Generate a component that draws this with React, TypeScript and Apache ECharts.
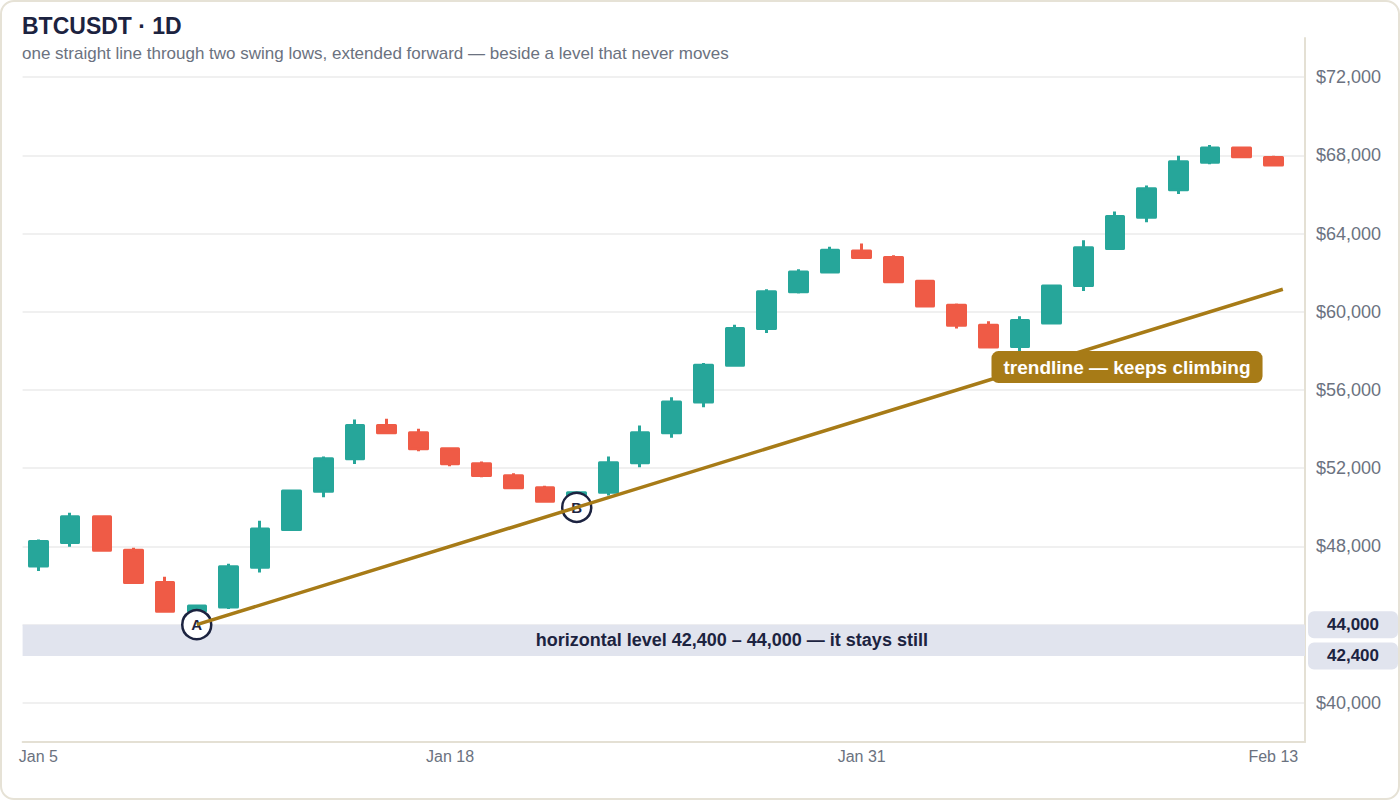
import React, { useEffect, useRef } from "react";
import * as echarts from "echarts";

// x ticks: day index -> label
const tickIndex = [0, 13, 26, 39];
const tickLabels = ["Jan 5", "Jan 18", "Jan 31", "Feb 13"];

// y grid lines, and the price labels shown (44,000 is covered by its tag)
const yTicks = [40000, 44000, 48000, 52000, 56000, 60000, 64000, 68000, 72000];
const yLabels = [40000, 48000, 52000, 56000, 60000, 64000, 68000, 72000];

// daily candles, Jan 5 .. Feb 13
const opens = [
  47000, 48200, 49520, 47800, 46150, 44700, 44900, 46930, 48870, 50820,
  52480, 54190, 53810, 52990, 52230, 51610, 51000, 50400, 50770, 52280,
  53810, 55380, 57260, 59140, 61020, 62040, 63110, 62770, 61560, 60330,
  59310, 58230, 59430, 61350, 63230, 64840, 66240, 67640, 68370, 67890,
];
const closes = [
  48250, 49520, 47800, 46150, 44680, 44950, 46960, 48890, 50840, 52480,
  54190, 53810, 52990, 52230, 51630, 51000, 50310, 50750, 52280, 53810,
  55380, 57260, 59140, 61020, 62040, 63150, 62770, 61530, 60300, 59310,
  58200, 59560, 61320, 63280, 64870, 66290, 67670, 68370, 67930, 67500,
];
const lows = [
  46750, 47980, 47750, 46100, 44650, 44000, 44800, 46670, 48810, 50520,
  52220, 53800, 52870, 52100, 51540, 50920, 50260, 50000, 50600, 52050,
  53560, 55120, 57240, 58920, 60930, 61990, 62760, 61490, 60250, 59140,
  58160, 57990, 59400, 61060, 63200, 64580, 66020, 67550, 67900, 67450,
];
const highs = [
  48350, 49720, 49560, 47930, 46450, 45000, 47120, 49320, 50900, 52600,
  54490, 54530, 54020, 53020, 52340, 51740, 51110, 50800, 52600, 54190,
  55630, 57380, 59340, 61150, 62180, 63320, 63490, 62890, 61610, 60420,
  59510, 59770, 61360, 63660, 65130, 66460, 67980, 68530, 68440, 67980,
];

// the fixed level and the two swing lows
const levelLow = 42400;
const levelHigh = 44000;
const anchorIndex = [5, 17];
const anchorLabels = ["A", "B"];
const trendEndIndex = 39.3;
const trendLabelIndex = 34;

const GREEN = "#26a69a";
const RED = "#ef5b46";
const GOLD = "#a77b17";
const NAVY = "#1c2340";
const BAND = "#e1e4ee";
const MUTED = "#6b7280";
const AXIS = "#e4e0d4";
const FONT = "'Liberation Sans', Arial, sans-serif";

const fmt = (v: number) => v.toLocaleString("en-US");

const App = () => {
  const chartRef = useRef<HTMLDivElement>(null);

  useEffect(() => {
    const chart = echarts.init(chartRef.current, null, { renderer: "svg" });

    const candles = opens.map((o, i) => [i, o, closes[i], lows[i], highs[i]]);
    const [ia, ib] = anchorIndex;
    const va = lows[ia];
    const vb = lows[ib];
    const slope = (vb - va) / (ib - ia);
    const trendAt = (x: number) => Math.round(va + slope * (x - ia));
    const trend = [
      [ia, va],
      [ib, vb],
      [trendEndIndex, trendAt(trendEndIndex)],
    ];
    const anchors = anchorIndex.map((i, k) => [i, lows[i], anchorLabels[k]]);

    const levelTag = {
      show: true,
      position: "end",
      distance: 3,
      color: NAVY,
      fontWeight: "bold",
      fontSize: 17,
      lineHeight: 17,
      fontFamily: FONT,
      backgroundColor: BAND,
      borderRadius: 6,
      padding: [5, 19, 5, 19],
    };

    chart.setOption({
      animation: false,
      textStyle: { fontFamily: FONT },
      title: {
        text: "BTCUSDT · 1D",
        subtext:
          "one straight line through two swing lows, extended forward — beside a level that never moves",
        left: 22,
        top: 14,
        padding: 0,
        itemGap: 8,
        textStyle: { fontSize: 23, fontWeight: "bold", color: NAVY, fontFamily: FONT },
        subtextStyle: { fontSize: 17, color: MUTED, fontFamily: FONT },
      },
      grid: { left: 22.6, right: 95, top: 38, bottom: 58 },
      xAxis: {
        type: "value",
        min: -0.5,
        max: 40,
        axisLine: { show: true, onZero: false, lineStyle: { color: AXIS, width: 2 } },
        axisTick: { show: false },
        splitLine: { show: false },
        axisLabel: {
          customValues: tickIndex,
          formatter: (v: number) => tickLabels[tickIndex.indexOf(v)] ?? "",
          color: MUTED,
          fontSize: 16,
          margin: 6,
        },
      },
      yAxis: {
        type: "value",
        position: "right",
        min: 38000,
        max: 74000,
        axisLine: { show: true, onZero: false, lineStyle: { color: AXIS, width: 2 } },
        axisTick: { show: false, customValues: yTicks },
        axisLabel: {
          customValues: yLabels,
          margin: 11,
          color: MUTED,
          fontSize: 18,
          formatter: (v: number) => "$" + fmt(v),
        },
        splitLine: {
          show: true,
          lineStyle: { color: "#ebebeb", width: 1.5 },
        },
      },
      series: [
        {
          type: "candlestick",
          data: candles,
          encode: { x: 0, y: [1, 2, 3, 4] },
          barWidth: 18,
          z: 2,
          itemStyle: {
            color: GREEN,
            color0: RED,
            borderColor: GREEN,
            borderColor0: RED,
            borderWidth: 3,
            borderJoin: "round",
          },
          markArea: {
            silent: true,
            itemStyle: { color: BAND, opacity: 1 },
            label: {
              show: true,
              position: "inside",
              offset: [68, 0],
              formatter: `horizontal level ${fmt(levelLow)} – ${fmt(levelHigh)} — it stays still`,
              color: NAVY,
              fontWeight: "bold",
              fontSize: 18,
              fontFamily: FONT,
            },
            data: [[{ yAxis: levelHigh }, { yAxis: levelLow }]],
          },
          markLine: {
            silent: true,
            symbol: ["none", "none"],
            lineStyle: { color: "rgba(0,0,0,0)", width: 0 },
            label: levelTag,
            data: [
              { yAxis: levelHigh, label: { ...levelTag, formatter: fmt(levelHigh) } },
              { yAxis: levelLow, label: { ...levelTag, formatter: fmt(levelLow) } },
            ],
          },
        },
        {
          type: "scatter",
          data: anchors,
          symbolSize: 29,
          z: 4,
          itemStyle: { color: "#ffffff", borderColor: NAVY, borderWidth: 2.5, opacity: 1 },
          label: {
            show: true,
            position: "inside",
            formatter: (p: any) => p.value[2],
            color: NAVY,
            fontWeight: "bold",
            fontSize: 15,
          },
        },
        {
          type: "line",
          data: trend,
          symbol: "none",
          z: 10,
          lineStyle: { color: GOLD, width: 3.5 },
          markPoint: {
            silent: true,
            z: 20,
            symbol: "circle",
            symbolSize: 0,
            data: [{ coord: [trendLabelIndex, trendAt(trendLabelIndex)] }],
            label: {
              show: true,
              position: "inside",
              offset: [12, 26],
              formatter: "trendline — keeps climbing",
              color: "#ffffff",
              fontWeight: "bold",
              fontSize: 19,
              lineHeight: 19,
              fontFamily: FONT,
              backgroundColor: GOLD,
              borderRadius: 7,
              padding: [7, 12, 6, 12],
            },
          },
        },
      ],
    });

    return () => {
      chart.dispose();
    };
  }, []);

  return (
    <div style={{ position: "absolute", left: 0, top: 0, width: 1400, height: 800 }}>
      <div
        style={{
          position: "absolute",
          inset: 0,
          boxSizing: "border-box",
          border: "2px solid #e6e2d6",
          borderRadius: 14,
          background: "#ffffff",
        }}
      />
      <div ref={chartRef} style={{ position: "absolute", left: 0, top: 0, width: 1400, height: 800 }} />
    </div>
  );
};

export default App;
